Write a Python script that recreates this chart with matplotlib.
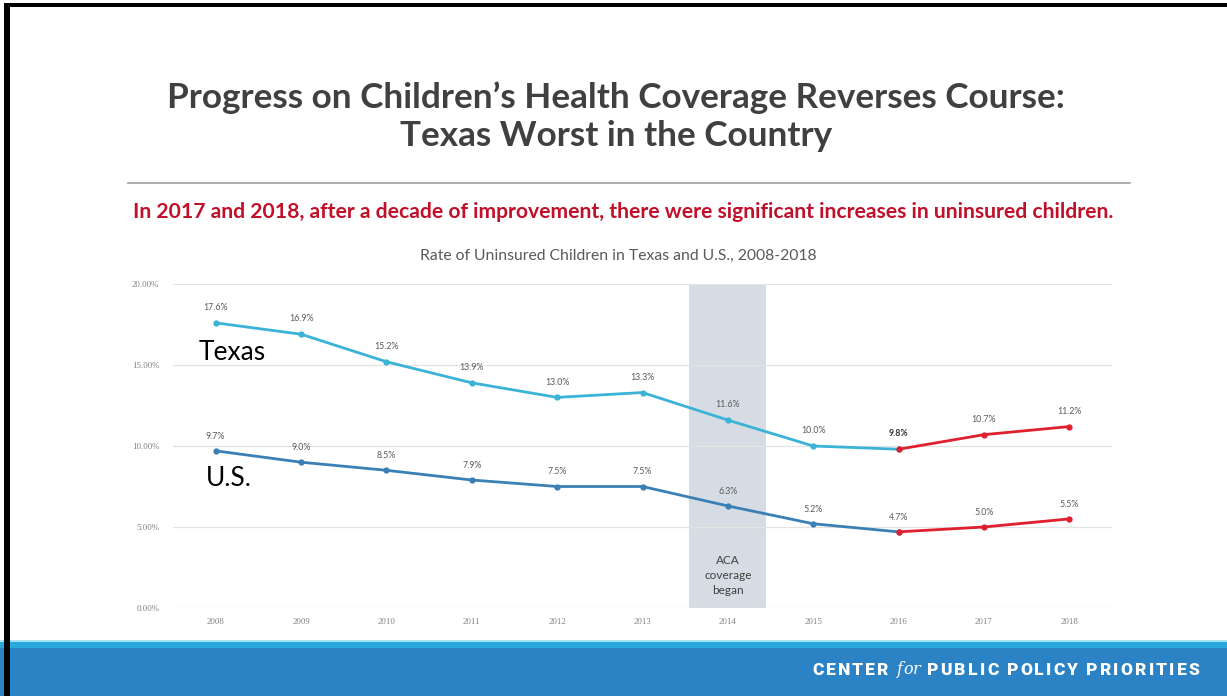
import matplotlib
matplotlib.use("Agg")
import matplotlib.pyplot as plt
from matplotlib.patches import Rectangle
import numpy as np

years = ["2008", "2009", "2010", "2011", "2012", "2013", "2014", "2015", "2016", "2017", "2018"]
texas = [17.6, 16.9, 15.2, 13.9, 13.0, 13.3, 11.6, 10.0, 9.8, 10.7, 11.2]
us = [9.7, 9.0, 8.5, 7.9, 7.5, 7.5, 6.3, 5.2, 4.7, 5.0, 5.5]
y_ticks = [0, 5, 10, 15, 20]
y_tick_labels = ["0.00%", "5.00%", "10.00%", "15.00%", "20.00%"]
red_start = "2016"
aca_year = "2014"

W, H = 1227, 696
plt.rcParams['font.family'] = ['Lato', 'DejaVu Sans']
fig = plt.figure(figsize=(W / 100, H / 100), dpi=100)
fig.patch.set_facecolor("white")


def fx(px):
    return px / W


def fy(py):
    return 1 - py / H


# frame / decorations
fig.add_artist(Rectangle((fx(4), fy(7)), fx(W - 4), 4 / H, transform=fig.transFigure,
                         color="black", lw=0, zorder=5))
fig.add_artist(Rectangle((fx(4), 0), fx(6), fy(3), transform=fig.transFigure,
                         color="black", lw=0, zorder=5))
# bottom band
fig.add_artist(Rectangle((0, 0), 1, fy(640), transform=fig.transFigure,
                         color="#a6e4f5", lw=0, zorder=1))
fig.add_artist(Rectangle((0, 0), 1, fy(642), transform=fig.transFigure,
                         color="#27a9dc", lw=0, zorder=1))
fig.add_artist(Rectangle((0, 0), 1, fy(648), transform=fig.transFigure,
                         color="#2b82c4", lw=0, zorder=1))

# footer text with letter spacing
fig.canvas.draw()
r = fig.canvas.get_renderer()
cur = 812.0
footer = [("CENTER", "normal", "heavy", ["Roboto", "DejaVu Sans"], 2.2, 12.5),
          (" ", None, None, None, 0, 0),
          ("for", "italic", "normal", ["DejaVu Serif"], 0.3, 11.5),
          (" ", None, None, None, 0, 0),
          ("PUBLIC POLICY PRIORITIES", "normal", "heavy", ["Roboto", "DejaVu Sans"], 2.2, 12.5)]
for word, style, weight, fam, sp, fs in footer:
    for ch in word:
        if ch == " ":
            cur += 6
            continue
        t = fig.text(fx(cur), fy(670), ch, color="white", fontsize=fs, fontweight=weight,
                     style=style, ha="left", va="center", family=fam)
        bb = t.get_window_extent(r)
        cur += bb.width + sp

# titles
fig.text(fx(616), fy(98), "Progress on Children\u2019s Health Coverage Reverses Course:",
         ha="center", va="center", fontsize=25.3, fontweight="bold", color="#404040")
fig.text(fx(616), fy(136), "Texas Worst in the Country",
         ha="center", va="center", fontsize=25.3, fontweight="bold", color="#404040")
fig.add_artist(plt.Line2D([fx(128), fx(1130)], [fy(183), fy(183)], transform=fig.transFigure,
                          color="#a0a0a0", lw=1.2))
fig.text(fx(623), fy(212),
         "In 2017 and 2018, after a decade of improvement, there were significant increases in uninsured children.",
         ha="center", va="center", fontsize=15.2, fontweight="bold", color="#c0102a")
fig.text(fx(618), fy(256), "Rate of Uninsured Children in Texas and U.S., 2008-2018",
         ha="center", va="center", fontsize=11.3, color="#595959")

ax = fig.add_axes([fx(173), fy(608), fx(1112) - fx(173), (608 - 284) / H])
ax.set_facecolor("none")
x = np.arange(len(years))
ax.set_xlim(-0.5, len(years) - 0.5)
ax.set_ylim(0, 20)

ri = years.index(red_start)
ai = years.index(aca_year)
ax.axvspan(ai - 0.45, ai + 0.45, color="#d6dce4", lw=0, zorder=0)
ax.text(ai, 1.98, "ACA\ncoverage\nbegan", ha="center", va="center", fontsize=8.5,
        color="#404040", linespacing=1.45)

for v in y_ticks:
    ax.axhline(v, color="#e3e3e3", lw=0.9, zorder=0.5)

tx_col = "#3bb3d6"
us_col = "#3a80b4"
red = "#e0202e"

ax.plot(x[:ri + 1], texas[:ri + 1], color=tx_col, lw=2, marker="o", ms=3.5, zorder=3)
ax.plot(x[ri:], texas[ri:], color=red, lw=2, marker="o", ms=3.5, zorder=4)
ax.plot(x[:ri + 1], us[:ri + 1], color=us_col, lw=2, marker="o", ms=3.5, zorder=3)
ax.plot(x[ri:], us[ri:], color=red, lw=2, marker="o", ms=3.5, zorder=4)

for i, v in enumerate(texas):
    bold = (i == ri)
    ax.annotate(f"{v:.1f}%", (x[i], v), xytext=(0, 11), textcoords="offset points",
                ha="center", va="center", fontsize=6.3,
                color="#303030" if bold else "#595959",
                fontweight="bold" if bold else "normal")
for i, v in enumerate(us):
    ax.annotate(f"{v:.1f}%", (x[i], v), xytext=(0, 10.5), textcoords="offset points",
                ha="center", va="center", fontsize=6.3, color="#595959")

ax.text(-0.2, 15.8, "Texas", fontsize=19, color="black", ha="left", va="center")
ax.text(-0.12, 8.0, "U.S.", fontsize=19, color="black", ha="left", va="center")

ax.set_xticks(x)
ax.set_xticklabels(years, fontsize=6.3, color="#7f7f7f", family=["Liberation Serif", "DejaVu Serif"])
ax.set_yticks(y_ticks)
ax.set_yticklabels(y_tick_labels, fontsize=6.3, color="#7f7f7f", family=["Liberation Serif", "DejaVu Serif"])
ax.tick_params(length=0, pad=7)
ax.tick_params(axis="y", pad=10)
for s in ax.spines.values():
    s.set_visible(False)

fig.savefig("out.png", dpi=100)
